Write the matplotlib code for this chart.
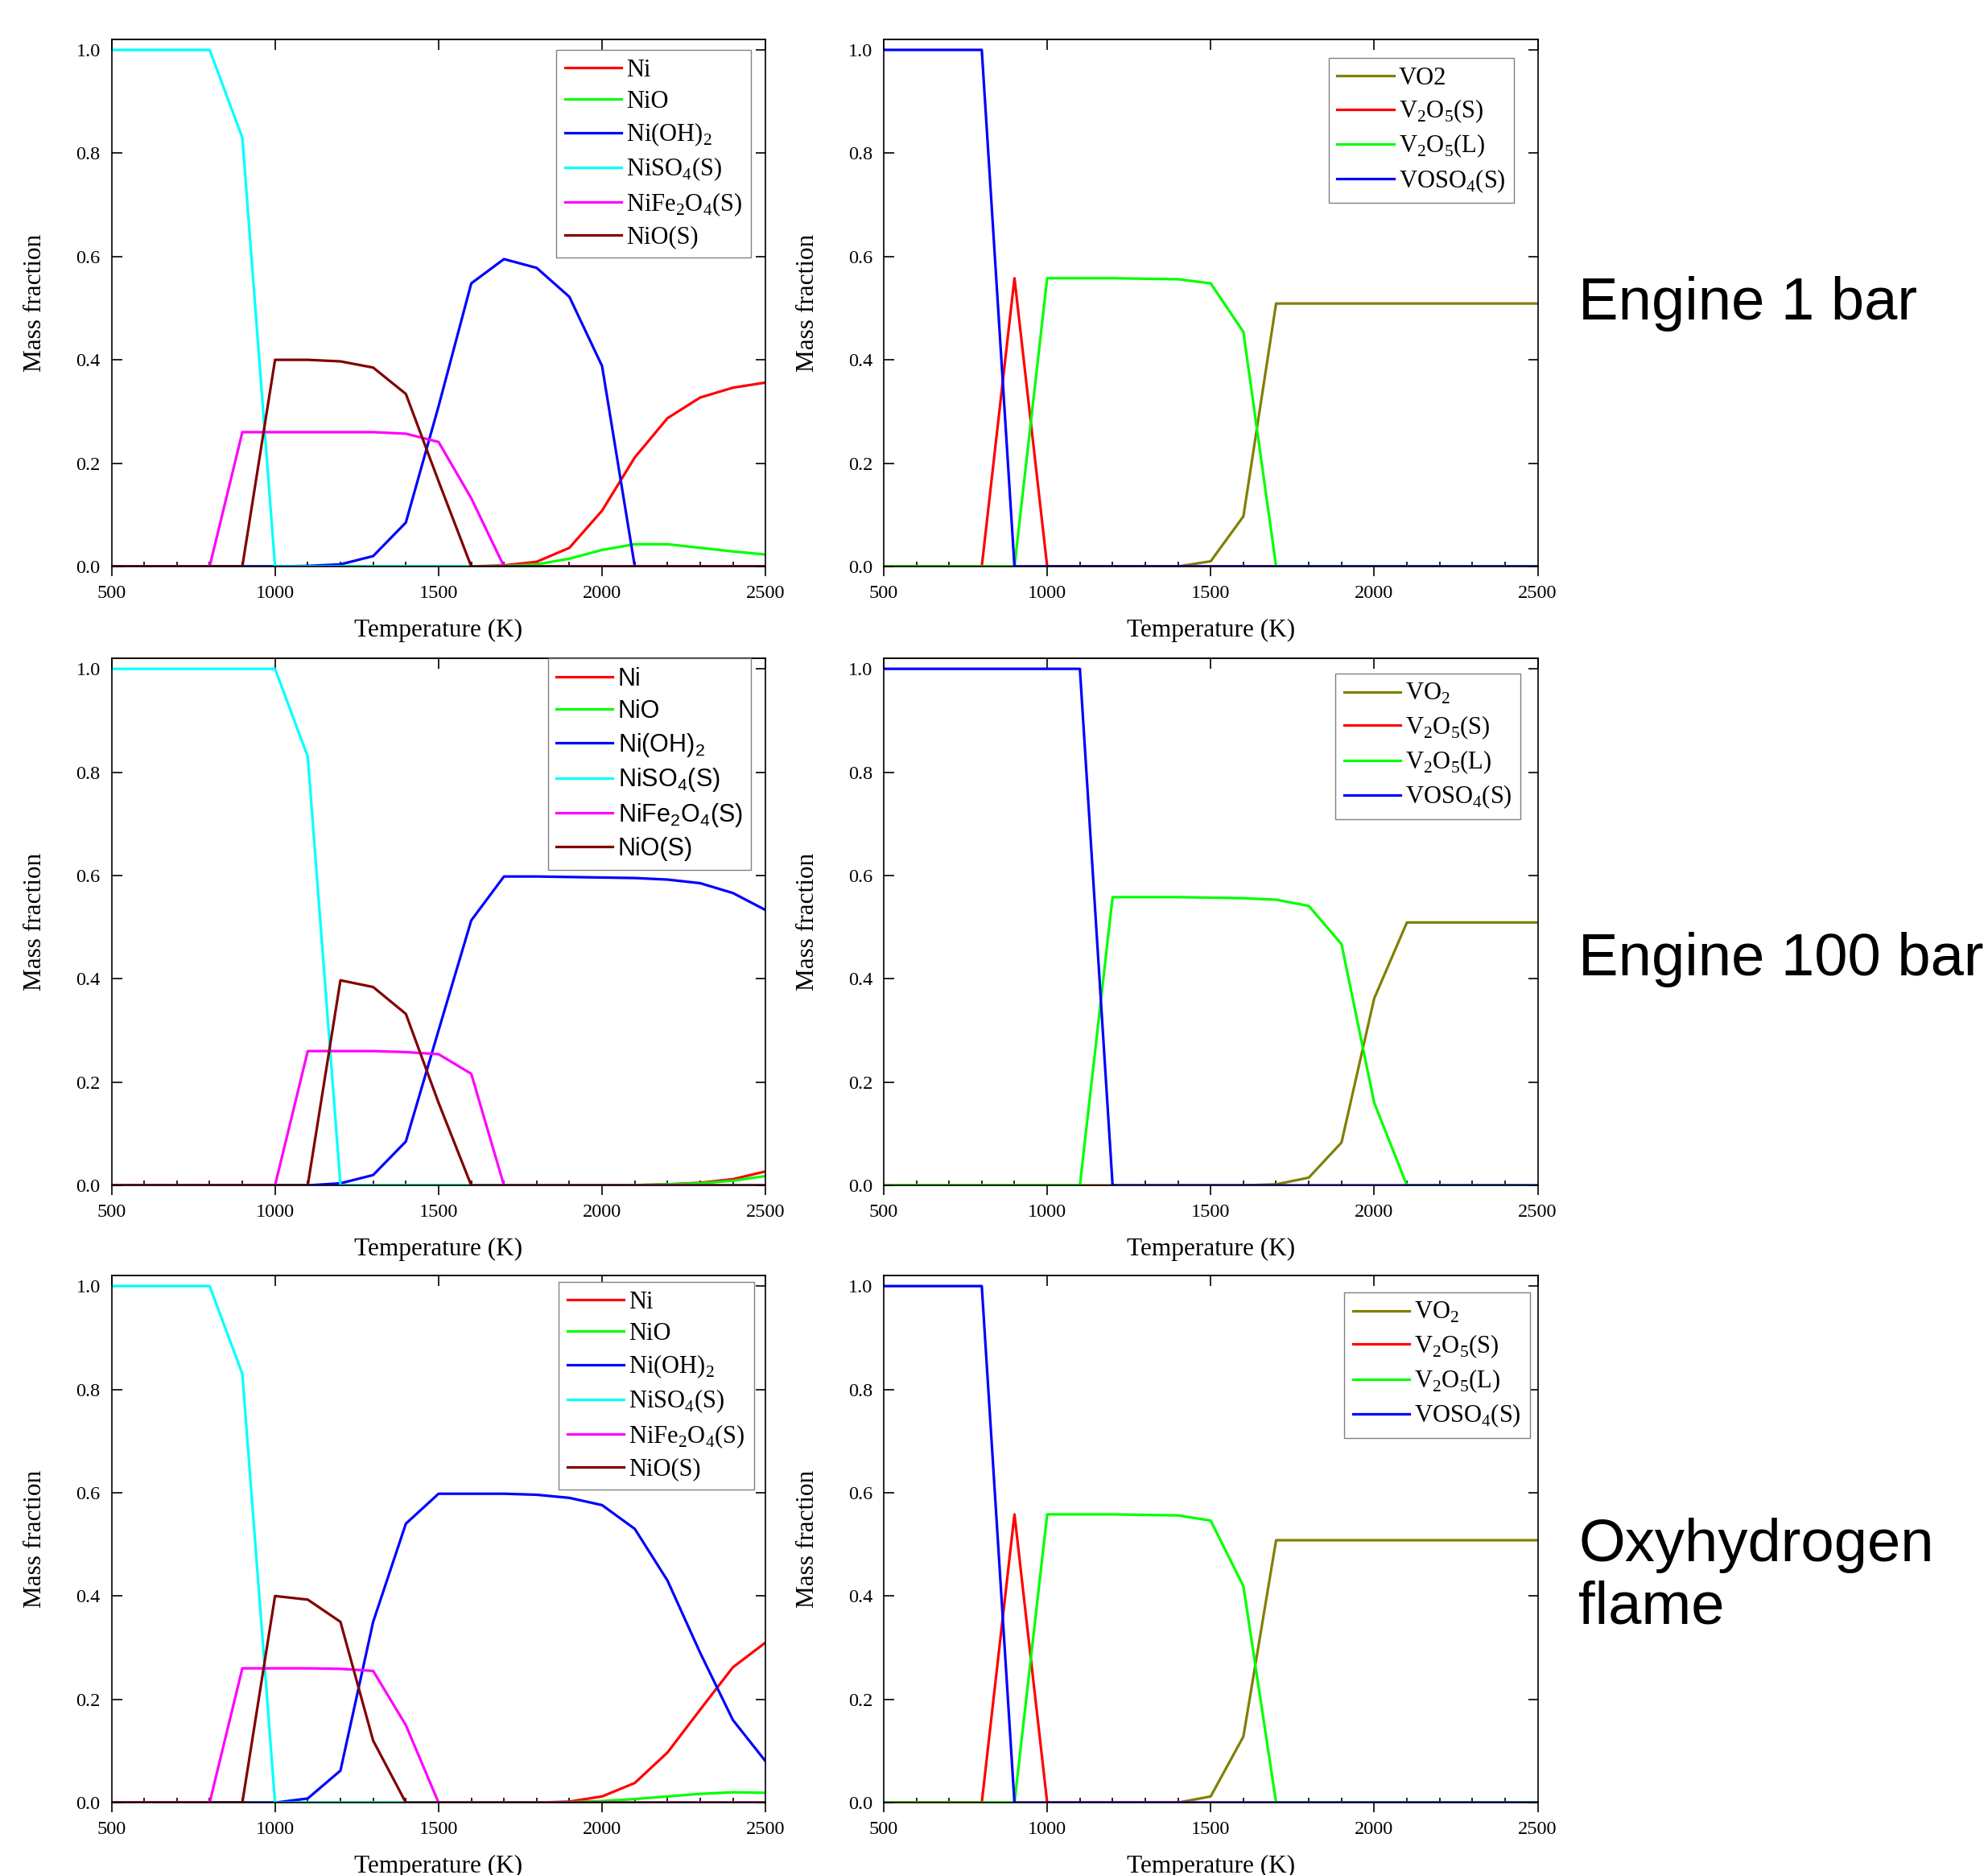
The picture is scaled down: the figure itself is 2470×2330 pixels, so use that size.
import matplotlib
matplotlib.use("Agg")
import matplotlib.pyplot as plt
from matplotlib.ticker import MultipleLocator

plt.rcParams['font.family'] = ['Liberation Serif', 'DejaVu Serif']
plt.rcParams['mathtext.fontset'] = 'custom'
plt.rcParams['mathtext.rm'] = 'Liberation Serif'

temperature = [500, 600, 700, 800, 900, 1000, 1100, 1200, 1300, 1400, 1500,
               1600, 1700, 1800, 1900, 2000, 2100, 2200, 2300, 2400, 2500]

ni_labels = ['Ni', 'NiO', r'Ni(OH)$_\mathregular{2}$', r'NiSO$_\mathregular{4}$(S)',
             r'NiFe$_\mathregular{2}$O$_\mathregular{4}$(S)', 'NiO(S)']
ni_colors = ['#ff0000', '#00ff00', '#0000ff', '#00ffff', '#ff00ff', '#800000']
v_labels_top = ['VO2', r'V$_\mathregular{2}$O$_\mathregular{5}$(S)',
                r'V$_\mathregular{2}$O$_\mathregular{5}$(L)', r'VOSO$_\mathregular{4}$(S)']
v_labels = [r'VO$_\mathregular{2}$', r'V$_\mathregular{2}$O$_\mathregular{5}$(S)',
            r'V$_\mathregular{2}$O$_\mathregular{5}$(L)', r'VOSO$_\mathregular{4}$(S)']
v_colors = ['#808000', '#ff0000', '#00ff00', '#0000ff']

# --- Engine 1 bar ---
e1_ni = [0, 0, 0, 0, 0, 0, 0, 0, 0, 0, 0, 0, 0.002, 0.009, 0.036, 0.108, 0.211, 0.287, 0.327, 0.346, 0.356]
e1_nio = [0, 0, 0, 0, 0, 0, 0, 0, 0, 0, 0, 0, 0.001, 0.004, 0.015, 0.032, 0.043, 0.043, 0.036, 0.029, 0.023]
e1_nioh2 = [0, 0, 0, 0, 0, 0, 0.001, 0.004, 0.02, 0.085, 0.31, 0.548, 0.595, 0.578, 0.522, 0.388, 0, 0, 0, 0, 0]
e1_niso4 = [1, 1, 1, 1, 0.83, 0, 0, 0, 0, 0, 0, 0, 0, 0, 0, 0, 0, 0, 0, 0, 0]
e1_nife2o4 = [0, 0, 0, 0, 0.26, 0.26, 0.26, 0.26, 0.26, 0.257, 0.241, 0.132, 0, 0, 0, 0, 0, 0, 0, 0, 0]
e1_nios = [0, 0, 0, 0, 0, 0.40, 0.40, 0.397, 0.385, 0.334, 0.165, 0, 0, 0, 0, 0, 0, 0, 0, 0, 0]

e1_vo2 = [0, 0, 0, 0, 0, 0, 0, 0, 0, 0, 0.010, 0.097, 0.509, 0.509, 0.509, 0.509, 0.509, 0.509, 0.509, 0.509, 0.509]
e1_v2o5s = [0, 0, 0, 0, 0.558, 0, 0, 0, 0, 0, 0, 0, 0, 0, 0, 0, 0, 0, 0, 0, 0]
e1_v2o5l = [0, 0, 0, 0, 0, 0.558, 0.558, 0.558, 0.557, 0.556, 0.548, 0.454, 0, 0, 0, 0, 0, 0, 0, 0, 0]
e1_voso4 = [1, 1, 1, 1, 0, 0, 0, 0, 0, 0, 0, 0, 0, 0, 0, 0, 0, 0, 0, 0, 0]

# --- Engine 100 bar ---
e100_ni = [0, 0, 0, 0, 0, 0, 0, 0, 0, 0, 0, 0, 0, 0, 0, 0, 0.0005, 0.002, 0.005, 0.012, 0.027]
e100_nio = [0, 0, 0, 0, 0, 0, 0, 0, 0, 0, 0, 0, 0, 0, 0, 0, 0.0005, 0.002, 0.004, 0.009, 0.018]
e100_nioh2 = [0, 0, 0, 0, 0, 0, 0, 0.004, 0.02, 0.085, 0.30, 0.513, 0.598, 0.598, 0.597, 0.596, 0.595, 0.592, 0.585, 0.566, 0.533]
e100_niso4 = [1, 1, 1, 1, 1, 1, 0.83, 0, 0, 0, 0, 0, 0, 0, 0, 0, 0, 0, 0, 0, 0]
e100_nife2o4 = [0, 0, 0, 0, 0, 0, 0.26, 0.26, 0.26, 0.258, 0.254, 0.216, 0, 0, 0, 0, 0, 0, 0, 0, 0]
e100_nios = [0, 0, 0, 0, 0, 0, 0, 0.397, 0.384, 0.332, 0.16, 0, 0, 0, 0, 0, 0, 0, 0, 0, 0]

e100_vo2 = [0, 0, 0, 0, 0, 0, 0, 0, 0, 0, 0, 0, 0.002, 0.015, 0.083, 0.362, 0.509, 0.509, 0.509, 0.509, 0.509]
e100_v2o5s = [0, 0, 0, 0, 0, 0, 0, 0, 0, 0, 0, 0, 0, 0, 0, 0, 0, 0, 0, 0, 0]
e100_v2o5l = [0, 0, 0, 0, 0, 0, 0, 0.558, 0.558, 0.558, 0.557, 0.556, 0.553, 0.541, 0.467, 0.16, 0, 0, 0, 0, 0]
e100_voso4 = [1, 1, 1, 1, 1, 1, 1, 0, 0, 0, 0, 0, 0, 0, 0, 0, 0, 0, 0, 0, 0]

# --- Oxyhydrogen flame ---
oh_ni = [0, 0, 0, 0, 0, 0, 0, 0, 0, 0, 0, 0, 0, 0, 0.002, 0.012, 0.038, 0.097, 0.18, 0.262, 0.31]
oh_nio = [0, 0, 0, 0, 0, 0, 0, 0, 0, 0, 0, 0, 0, 0, 0.001, 0.003, 0.007, 0.012, 0.017, 0.02, 0.019]
oh_nioh2 = [0, 0, 0, 0, 0, 0, 0.008, 0.062, 0.35, 0.54, 0.598, 0.598, 0.598, 0.596, 0.59, 0.576, 0.53, 0.43, 0.29, 0.16, 0.08]
oh_niso4 = [1, 1, 1, 1, 0.83, 0, 0, 0, 0, 0, 0, 0, 0, 0, 0, 0, 0, 0, 0, 0, 0]
oh_nife2o4 = [0, 0, 0, 0, 0.26, 0.26, 0.26, 0.259, 0.255, 0.15, 0, 0, 0, 0, 0, 0, 0, 0, 0, 0, 0]
oh_nios = [0, 0, 0, 0, 0, 0.40, 0.393, 0.35, 0.12, 0, 0, 0, 0, 0, 0, 0, 0, 0, 0, 0, 0]

oh_vo2 = [0, 0, 0, 0, 0, 0, 0, 0, 0, 0, 0.012, 0.128, 0.508, 0.508, 0.508, 0.508, 0.508, 0.508, 0.508, 0.508, 0.508]
oh_v2o5s = [0, 0, 0, 0, 0.558, 0, 0, 0, 0, 0, 0, 0, 0, 0, 0, 0, 0, 0, 0, 0, 0]
oh_v2o5l = [0, 0, 0, 0, 0, 0.558, 0.558, 0.558, 0.557, 0.556, 0.546, 0.419, 0, 0, 0, 0, 0, 0, 0, 0, 0]
oh_voso4 = [1, 1, 1, 1, 0, 0, 0, 0, 0, 0, 0, 0, 0, 0, 0, 0, 0, 0, 0, 0, 0]

row_names = ['Engine 1 bar', 'Engine 100 bar', 'Oxyhydrogen\nflame']


def draw_panel(ax, series, labels, colors, legend_anchor, legend_family='Liberation Serif'):
    for ys, lab, col in zip(series, labels, colors):
        ax.plot(temperature, ys, color=col, lw=2.3, label=lab)
    ax.set_xlim(500, 2500)
    ax.set_ylim(0, 1.02)
    ax.xaxis.set_major_locator(MultipleLocator(500))
    ax.xaxis.set_minor_locator(MultipleLocator(100))
    ax.yaxis.set_major_locator(MultipleLocator(0.2))
    ax.yaxis.set_major_formatter(plt.FormatStrFormatter('%.1f'))
    ax.tick_params(axis='x', which='major', direction='out', length=8.5, width=1.2,
                   labelsize=17.5, pad=8)
    ax.tick_params(axis='x', which='minor', direction='in', length=4.3, width=1.2)
    ax.tick_params(axis='y', which='major', direction='in', length=9, width=1.2,
                   labelsize=17.5, pad=10, left=True, right=True)
    top = ax.secondary_xaxis('top')
    top.xaxis.set_major_locator(MultipleLocator(500))
    top.tick_params(direction='in', length=9, width=1.2, labeltop=False)
    top.spines['top'].set_linewidth(1.2)
    for sp in ax.spines.values():
        sp.set_linewidth(1.2)
    ax.set_xlabel('Temperature (K)', fontsize=22.5, labelpad=15)
    ax.set_ylabel('Mass fraction', fontsize=22.5, labelpad=26)
    leg = ax.legend(loc='upper right', bbox_to_anchor=legend_anchor, borderaxespad=0,
                    fancybox=False, framealpha=1, edgecolor='#808080',
                    prop={'family': legend_family, 'size': 22},
                    handlelength=2.3, handletextpad=0.2, labelspacing=0.32,
                    borderpad=0.35)
    leg.get_frame().set_linewidth(1.0)


fig = plt.figure(figsize=(24.7, 23.3), dpi=100)

col_left = [0.0561, 0.4445]
col_width = 0.329
row_bottom = [0.6979, 0.3678, 0.0386]
row_height = 0.281

ni_sets = [
    [e1_ni, e1_nio, e1_nioh2, e1_niso4, e1_nife2o4, e1_nios],
    [e100_ni, e100_nio, e100_nioh2, e100_niso4, e100_nife2o4, e100_nios],
    [oh_ni, oh_nio, oh_nioh2, oh_niso4, oh_nife2o4, oh_nios],
]
v_sets = [
    [e1_vo2, e1_v2o5s, e1_v2o5l, e1_voso4],
    [e100_vo2, e100_v2o5s, e100_v2o5l, e100_voso4],
    [oh_vo2, oh_v2o5s, oh_v2o5l, oh_voso4],
]
ni_anchor = [(0.978, 0.980), (0.978, 1.0), (0.982, 0.988)]
v_anchor = [(0.964, 0.965), (0.974, 0.972), (0.988, 0.969)]
ni_family = ['Liberation Serif', 'Liberation Sans', 'Liberation Serif']
v_label_sets = [v_labels_top, v_labels, v_labels]
label_y = [0.838, 0.488, 0.159]

for r in range(3):
    ax_ni = fig.add_axes([col_left[0], row_bottom[r], col_width, row_height])
    draw_panel(ax_ni, ni_sets[r], ni_labels, ni_colors, ni_anchor[r], ni_family[r])
    ax_v = fig.add_axes([col_left[1], row_bottom[r], col_width, row_height])
    draw_panel(ax_v, v_sets[r], v_label_sets[r], v_colors, v_anchor[r])
    fig.text(0.794, label_y[r], row_names[r], family='Liberation Sans', fontsize=53.5,
             ha='left', va='center', linespacing=1.15)

fig.savefig('out.png', dpi=100)
